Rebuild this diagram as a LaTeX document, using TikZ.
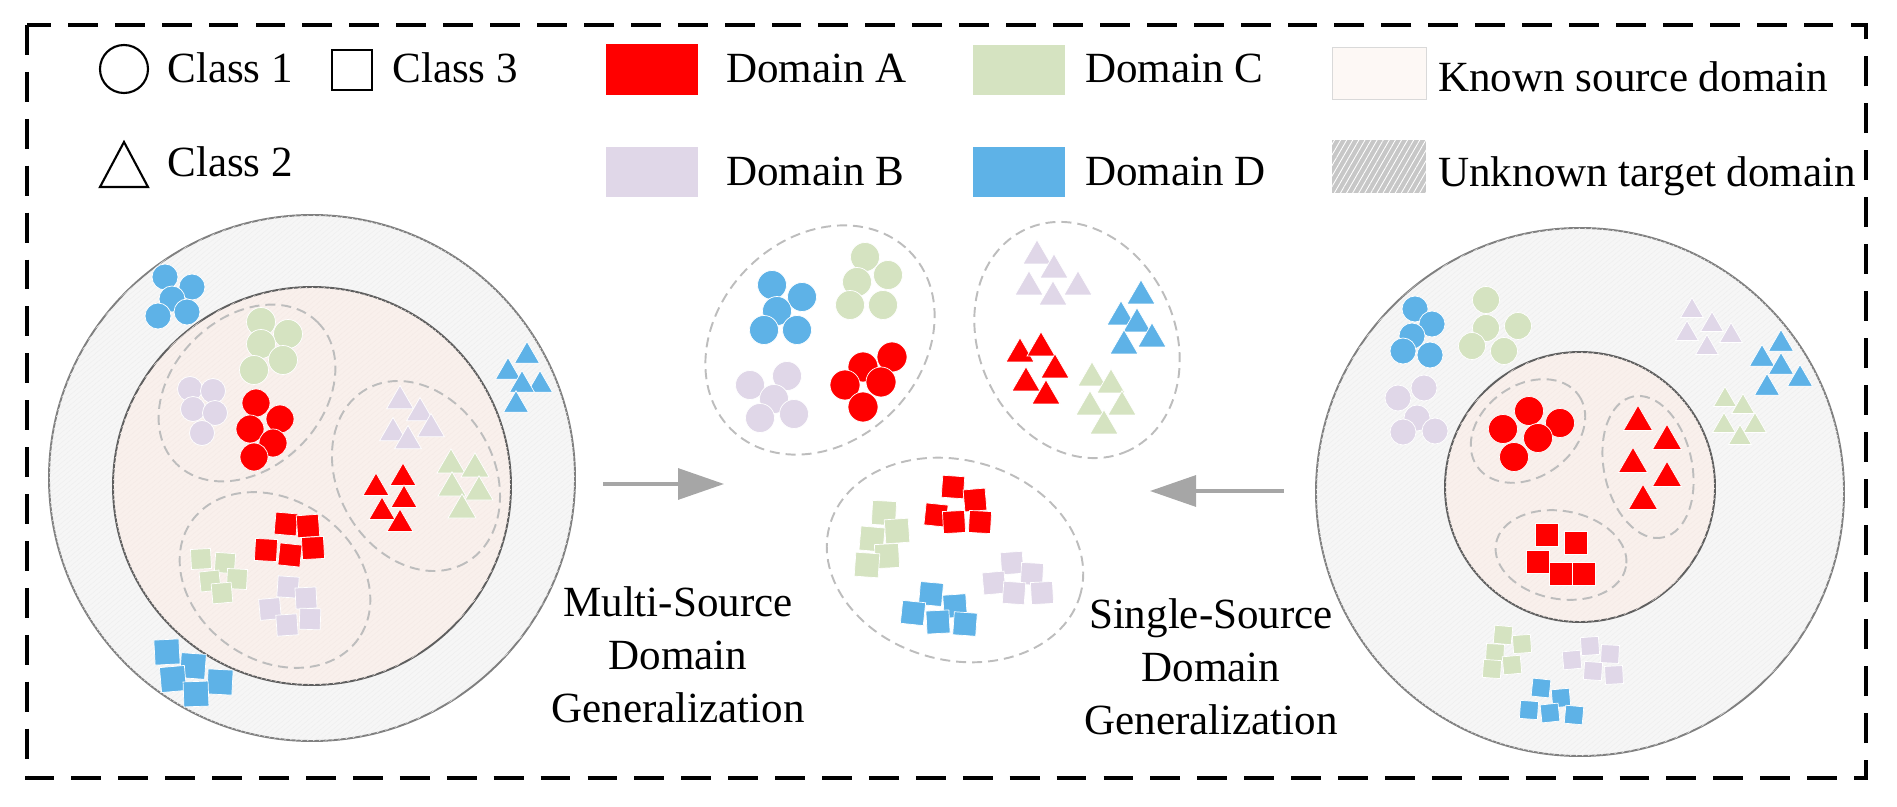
\documentclass[tikz,border=0pt]{standalone}
\usepackage{fontspec}
\setmainfont{Liberation Serif}
\usetikzlibrary{arrows.meta,patterns.meta}

\definecolor{domA}{HTML}{FF0000}
\definecolor{domB}{HTML}{E0D7E8}
\definecolor{domC}{HTML}{D5E3C1}
\definecolor{domD}{HTML}{5EB2E7}
\definecolor{knownfill}{HTML}{F9F0EC}
\definecolor{knownhatch}{HTML}{F5EBE7}
\definecolor{knownkey}{HTML}{FDF8F5}
\definecolor{ringfill}{HTML}{F6F6F6}
\definecolor{ringhatch}{HTML}{EFEFEF}
\definecolor{ringedge}{HTML}{808080}
\definecolor{coreedge}{HTML}{5F5F5F}
\definecolor{clusteredge}{HTML}{BDBDBD}
\definecolor{arrowgray}{HTML}{A6A6A6}

\begin{document}
\begin{tikzpicture}[x=0.02cm, y=-0.02cm,
  font=\fontsize{24.5}{30.2}\selectfont,
  pt/.style={draw=white, line width=0.4pt},
  ring/.style={draw=ringedge, line width=1.1pt, fill=ringfill,
    postaction={pattern={Lines[angle=40,distance=2.2pt,line width=0.3pt]}, pattern color=ringhatch}},
  core/.style={draw=coreedge, line width=1.1pt, fill=knownfill,
    postaction={pattern={Lines[angle=40,distance=2.2pt,line width=0.3pt]}, pattern color=knownhatch}},
  cluster/.style={draw=clusteredge, line width=1.1pt, dash pattern=on 5.7pt off 3.4pt},
  boxframe/.style={line width=2pt, dash pattern=on 17pt off 9.7pt},
  key/.style={line width=1.2pt},
  flow/.style={draw=arrowgray, line width=1.8pt, -{Triangle[length=0.92cm,width=0.62cm]}},
  lbl/.style={anchor=base west, inner sep=0pt}]
  \useasboundingbox (0,0) rectangle (1897,807);

  % Draw the dashed frame
  \draw[boxframe] (27,25) rectangle (1866,778);

  % Draw the class keys
  \draw[key] (124,69) circle [radius=24];
  \node[lbl] (cls1) at (167,83) {Class 1};
  \draw[key] (332,50) rectangle (372,90);
  \node[lbl] (cls3) at (392,83) {Class 3};
  \draw[key] (124,142) -- (148,187) -- (100,187) -- cycle;
  \node[lbl] (cls2) at (167,177) {Class 2};

  % Draw the domain keys
  \fill[domA] (606,44) rectangle (698,95);
  \node[lbl] (doma) at (726,83) {Domain A};
  \fill[domB] (606,147) rectangle (698,197);
  \node[lbl] (domb) at (726,186) {Domain B};
  \fill[domC] (973,45) rectangle (1065,95);
  \node[lbl] (domc) at (1085,83) {Domain C};
  \fill[domD] (973,147) rectangle (1065,197);
  \node[lbl] (domd) at (1085,186) {Domain D};
  \filldraw[draw=black!15, fill=knownkey] (1332,47) rectangle (1426,99);
  \node[lbl] (known) at (1438,92) {Known source domain};
  \fill[black!22, postaction={pattern={Lines[angle=60,distance=3pt,line width=0.5pt]}, pattern color=white}]
    (1332,140) rectangle (1426,193);
  \node[lbl] (unknown) at (1438,187) {Unknown target domain};

  % Multi-source domains (left)
  \filldraw[ring] (312,478) circle [radius=263];
  \filldraw[core] (312,486) circle [radius=199];
  \draw[cluster] (247,393) ellipse [x radius=100, y radius=75, rotate=45];
  \draw[cluster] (416,476) ellipse [x radius=100, y radius=78, rotate=-60];
  \draw[cluster] (275,580) ellipse [x radius=102, y radius=80, rotate=-35];
  \foreach \x/\y in {165/277,192/287,172/299,158/316,187/312}
    \filldraw[pt, fill=domD] (\x,\y) circle [radius=13];
  \foreach \x/\y in {261/322,288/334,261/344,283/360,254/370}
    \filldraw[pt, fill=domC] (\x,\y) circle [radius=14.5];
  \foreach \x/\y in {190/389,213/391,193/409,215/413,202/433}
    \filldraw[pt, fill=domB] (\x,\y) circle [radius=12.5];
  \foreach \x/\y in {256/403,280/419,250/429,273/443,254/457}
    \filldraw[pt, fill=domA] (\x,\y) circle [radius=14];
  \foreach \x/\y in {527/356,508/372,540/385,522/385,516/405}
    \filldraw[pt, fill=domD] (\x,\y) ++(0,-14.4) -- ++(12.5,21.6) -- ++(-25,0) -- cycle;
  \foreach \x/\y in {400/401,420/413,393/433,431/429,408/441}
    \filldraw[pt, fill=domB] (\x,\y) ++(0,-15.6) -- ++(13.5,23.4) -- ++(-27,0) -- cycle;
  \foreach \x/\y in {376/488,403/478,404/500,382/512,400/524}
    \filldraw[pt, fill=domA] (\x,\y) ++(0,-15) -- ++(13,22.5) -- ++(-26,0) -- cycle;
  \foreach \x/\y in {451/465,475/469,452/488,479/492,462/510}
    \filldraw[pt, fill=domC] (\x,\y) ++(0,-16.2) -- ++(14,24.2) -- ++(-28,0) -- cycle;
  \foreach \x/\y/\a in {286/524/-5,308/526/4,266/550/-3,290/555/-6,313/548/3}
    \filldraw[pt, fill=domA, rotate around={\a:(\x,\y)}] (\x,\y) ++(-11,-11) rectangle ++(22,22);
  \foreach \x/\y/\a in {201/559/3,225/563/-4,210/581/6,237/579/-3,222/593/5}
    \filldraw[pt, fill=domC, rotate around={\a:(\x,\y)}] (\x,\y) ++(-10,-10) rectangle ++(20,20);
  \foreach \x/\y/\a in {288/587/-4,306/598/3,270/609/5,310/619/-2,287/625/4}
    \filldraw[pt, fill=domB, rotate around={\a:(\x,\y)}] (\x,\y) ++(-10.5,-10.5) rectangle ++(21,21);
  \foreach \x/\y/\a in {167/652/3,193/666/-4,173/679/5,220/682/-3,196/694/2}
    \filldraw[pt, fill=domD, rotate around={\a:(\x,\y)}] (\x,\y) ++(-12.5,-12.5) rectangle ++(25,25);

  % Unknown target domains (middle)
  \draw[cluster] (820,340) ellipse [x radius=126, y radius=102, rotate=45];
  \draw[cluster] (1077,340) ellipse [x radius=122, y radius=98, rotate=-65];
  \draw[cluster] (955,560) ellipse [x radius=130, y radius=100, rotate=-15];
  \foreach \x/\y in {772/285,802/297,777/311,764/330,797/330}
    \filldraw[pt, fill=domD] (\x,\y) circle [radius=14.5];
  \foreach \x/\y in {865/257,888/275,857/282,850/305,883/305}
    \filldraw[pt, fill=domC] (\x,\y) circle [radius=14.5];
  \foreach \x/\y in {750/385,787/376,774/399,760/418,794/414}
    \filldraw[pt, fill=domB] (\x,\y) circle [radius=14.5];
  \foreach \x/\y in {863/367,892/357,845/385,881/382,863/407}
    \filldraw[pt, fill=domA] (\x,\y) circle [radius=15];
  \foreach \x/\y in {1037/256,1054/270,1029/287,1078/287,1053/297}
    \filldraw[pt, fill=domB] (\x,\y) ++(0,-16.2) -- ++(14,24.2) -- ++(-28,0) -- cycle;
  \foreach \x/\y in {1141/296,1121/317,1137/324,1152/339,1124/346}
    \filldraw[pt, fill=domD] (\x,\y) ++(0,-16.2) -- ++(14,24.2) -- ++(-28,0) -- cycle;
  \foreach \x/\y in {1020/354,1041/348,1055/370,1026/383,1046/396}
    \filldraw[pt, fill=domA] (\x,\y) ++(0,-16.2) -- ++(14,24.2) -- ++(-28,0) -- cycle;
  \foreach \x/\y in {1092/378,1111/385,1090/407,1122/407,1104/426}
    \filldraw[pt, fill=domC] (\x,\y) ++(0,-16.2) -- ++(14,24.2) -- ++(-28,0) -- cycle;
  \foreach \x/\y/\a in {953/487/-4,975/500/5,936/515/-6,954/522/3,980/522/-3}
    \filldraw[pt, fill=domA, rotate around={\a:(\x,\y)}] (\x,\y) ++(-11,-11) rectangle ++(22,22);
  \foreach \x/\y/\a in {884/513/-3,897/531/4,872/539/-5,887/556/3,867/565/-4}
    \filldraw[pt, fill=domC, rotate around={\a:(\x,\y)}] (\x,\y) ++(-12,-12) rectangle ++(24,24);
  \foreach \x/\y/\a in {1012/563/4,1032/574/-3,994/583/5,1014/593/-4,1042/593/3}
    \filldraw[pt, fill=domB, rotate around={\a:(\x,\y)}] (\x,\y) ++(-11,-11) rectangle ++(22,22);
  \foreach \x/\y/\a in {931/594/-5,955/606/4,913/613/-6,938/622/3,965/624/-4}
    \filldraw[pt, fill=domD, rotate around={\a:(\x,\y)}] (\x,\y) ++(-11.5,-11.5) rectangle ++(23,23);

  % Single-source domain (right)
  \filldraw[ring] (1580,492) circle [radius=264];
  \filldraw[core] (1580,487) circle [radius=135];
  \draw[cluster] (1528,431) ellipse [x radius=62, y radius=46, rotate=35];
  \draw[cluster] (1648,467) ellipse [x radius=72, y radius=44, rotate=-78];
  \draw[cluster] (1561,555) ellipse [x radius=66, y radius=44, rotate=-10];
  \foreach \x/\y in {1529/411,1503/429,1560/423,1538/438,1514/457}
    \filldraw[pt, fill=domA] (\x,\y) circle [radius=14.5];
  \foreach \x/\y in {1638/422,1667/441,1633/464,1667/478,1643/501}
    \filldraw[pt, fill=domA] (\x,\y) ++(0,-16.7) -- ++(14.5,25.1) -- ++(-29,0) -- cycle;
  \foreach \x/\y in {1547/535,1576/543,1538/562,1561/574,1584/574}
    \filldraw[pt, fill=domA] (\x,\y) ++(-11.5,-11.5) rectangle ++(23,23);
  \foreach \x/\y in {1415/309,1432/324,1412/336,1403/351,1430/355}
    \filldraw[pt, fill=domD] (\x,\y) circle [radius=13];
  \foreach \x/\y in {1486/300,1486/328,1518/326,1472/346,1504/351}
    \filldraw[pt, fill=domC] (\x,\y) circle [radius=13.5];
  \foreach \x/\y in {1424/388,1398/398,1417/418,1403/432,1435/431}
    \filldraw[pt, fill=domB] (\x,\y) circle [radius=13];
  \foreach \x/\y in {1692/311,1712/325,1687/334,1731/336,1707/348}
    \filldraw[pt, fill=domB] (\x,\y) ++(0,-13.3) -- ++(11.5,19.9) -- ++(-23,0) -- cycle;
  \foreach \x/\y in {1781/344,1762/359,1781/367,1800/379,1767/388}
    \filldraw[pt, fill=domD] (\x,\y) ++(0,-14.4) -- ++(12.5,21.6) -- ++(-25,0) -- cycle;
  \foreach \x/\y in {1725/400,1743/407,1724/426,1755/426,1740/438}
    \filldraw[pt, fill=domC] (\x,\y) ++(0,-13.3) -- ++(11.5,19.9) -- ++(-23,0) -- cycle;
  \foreach \x/\y/\a in {1503/635/-5,1522/644/4,1495/653/-3,1512/665/5,1492/669/-4}
    \filldraw[pt, fill=domC, rotate around={\a:(\x,\y)}] (\x,\y) ++(-9,-9) rectangle ++(18,18);
  \foreach \x/\y/\a in {1590/646/4,1610/654/-3,1572/660/5,1593/671/-4,1614/675/3}
    \filldraw[pt, fill=domB, rotate around={\a:(\x,\y)}] (\x,\y) ++(-9,-9) rectangle ++(18,18);
  \foreach \x/\y/\a in {1541/688/-6,1561/698/5,1529/710/-4,1550/713/6,1574/715/-5}
    \filldraw[pt, fill=domD, rotate around={\a:(\x,\y)}] (\x,\y) ++(-9,-9) rectangle ++(18,18);

  % Draw the arrows and their labels
  \coordinate (mfrom) at (603,484);
  \coordinate (mto) at (724,484);
  \draw[flow] (mfrom) -- (mto);
  \coordinate (sfrom) at (1284,491);
  \coordinate (sto) at (1150,491);
  \draw[flow] (sfrom) -- (sto);
  \node[align=center] (multi) at (678,655) {Multi-Source\\Domain\\Generalization};
  \node[align=center] (single) at (1211,667) {Single-Source\\Domain\\Generalization};
\end{tikzpicture}
\end{document}
